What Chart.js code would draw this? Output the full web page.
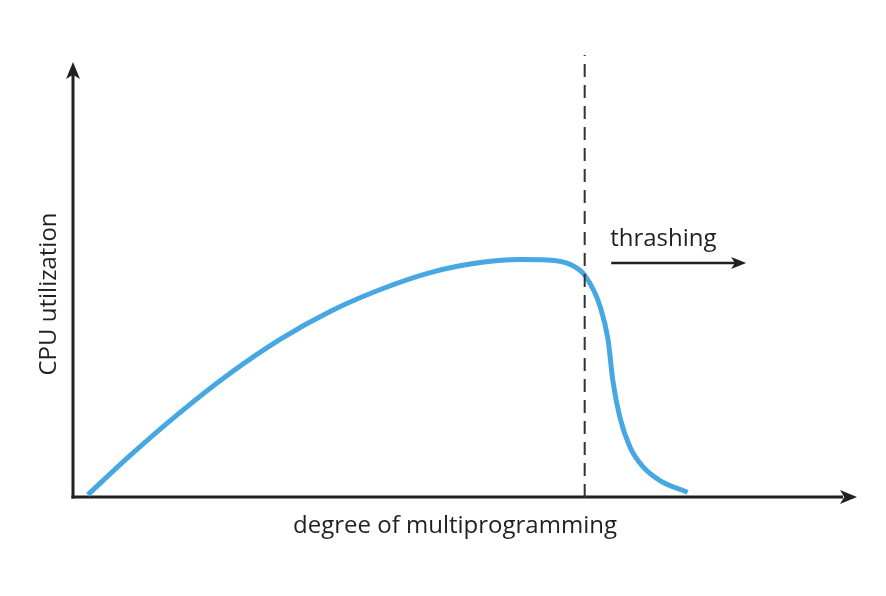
<!DOCTYPE html>
<html>
<head>
<meta charset="utf-8">
<script src="https://cdn.jsdelivr.net/npm/chart.js@4/dist/chart.umd.min.js"></script>
<style>
html,body{margin:0;padding:0;background:#fff;}
#wrap{width:886px;height:596px;}
</style>
</head>
<body>
<div id="wrap"><canvas id="c" width="886" height="596"></canvas></div>
<script>
// Curve: degree of multiprogramming (x) vs CPU utilization (y), arbitrary units 0-100
const curveX = [1.9, 7.3, 13.7, 20.1, 26.5, 32.9, 39.4, 45.8, 52.2, 57.3, 60.8, 63.7, 65.6, 67.6, 68.6, 69.2, 70.1, 71.4, 73.1, 75.3, 78.8];
const curveY = [0.5, 9.5, 19.4, 28.4, 36.2, 42.6, 47.7, 51.6, 53.9, 54.6, 54.5, 53.5, 51.0, 43.7, 36.1, 26.9, 18.4, 11.5, 6.9, 3.7, 1.1];
// Thrashing threshold (dashed vertical line)
const thresholdX = [65.6, 65.6];
const thresholdY = [0, 101.6];
// Labels
const xTitle = 'degree of multiprogramming';
const yTitle = 'CPU utilization';
const thrashLabel = 'thrashing';
const thrashArrowX = [69.0, 86.3];
const thrashArrowY = [53.8];

const curveData = curveX.map((x, i) => ({x, y: curveY[i]}));
const threshData = thresholdX.map((x, i) => ({x, y: thresholdY[i]}));

const ink = '#231f20';

function arrowHead(ctx, x, y, dir, len, half) {
  ctx.beginPath();
  if (dir === 'up') {
    ctx.moveTo(x, y);
    ctx.lineTo(x - half, y + len);
    ctx.lineTo(x, y + len * 0.75);
    ctx.lineTo(x + half, y + len);
  } else {
    ctx.moveTo(x, y);
    ctx.lineTo(x - len, y - half);
    ctx.lineTo(x - len * 0.75, y);
    ctx.lineTo(x - len, y + half);
  }
  ctx.closePath();
  ctx.fill();
}

const decor = {
  id: 'decor',
  beforeDatasetsDraw(chart) {
    const {ctx, chartArea: a, scales: {x, y}} = chart;
    ctx.save();
    ctx.strokeStyle = ink;
    ctx.fillStyle = ink;
    ctx.lineWidth = 3;
    // y axis
    ctx.beginPath();
    ctx.moveTo(a.left, a.bottom + 1.5);
    ctx.lineTo(a.left, a.top + 10);
    ctx.stroke();
    arrowHead(ctx, a.left, a.top, 'up', 17, 7);
    // x axis
    ctx.beginPath();
    ctx.moveTo(a.left - 1.5, a.bottom);
    ctx.lineTo(a.right - 10, a.bottom);
    ctx.stroke();
    arrowHead(ctx, a.right + 4, a.bottom, 'right', 17, 7);
    // titles
    ctx.font = '24px "Open Sans", sans-serif';
    ctx.textAlign = 'center';
    ctx.textBaseline = 'alphabetic';
    ctx.fillText(xTitle, 455, 533);
    ctx.save();
    ctx.translate(56, 294);
    ctx.rotate(-Math.PI / 2);
    ctx.fillText(yTitle, 0, 0);
    ctx.restore();
    // thrashing label and arrow
    const ax0 = x.getPixelForValue(thrashArrowX[0]);
    const ax1 = x.getPixelForValue(thrashArrowX[1]);
    const ay = y.getPixelForValue(thrashArrowY[0]);
    ctx.textAlign = 'left';
    ctx.fillText(thrashLabel, ax0 - 1, ay - 17);
    ctx.lineWidth = 2.5;
    ctx.beginPath();
    ctx.moveTo(ax0, ay);
    ctx.lineTo(ax1 - 8, ay);
    ctx.stroke();
    arrowHead(ctx, ax1, ay, 'right', 15, 6);
    ctx.restore();
  }
};

new Chart(document.getElementById('c'), {
  type: 'line',
  data: {
    datasets: [
      {
        data: threshData,
        borderColor: '#333333',
        borderWidth: 2,
        borderDash: [13, 8],
        pointRadius: 0,
        tension: 0,
        clip: false
      },
      {
        data: curveData,
        borderColor: '#47a7e2',
        borderWidth: 5,
        pointRadius: 0,
        cubicInterpolationMode: 'monotone',
        borderCapStyle: 'butt',
        clip: false
      }
    ]
  },
  options: {
    responsive: false,
    animation: false,
    layout: {padding: {left: 73, right: 33, top: 62, bottom: 99}},
    plugins: {legend: {display: false}, tooltip: {enabled: false}},
    scales: {
      x: {type: 'linear', min: 0, max: 100, display: false},
      y: {type: 'linear', min: 0, max: 100, display: false}
    }
  },
  plugins: [decor]
});
</script>
</body>
</html>
